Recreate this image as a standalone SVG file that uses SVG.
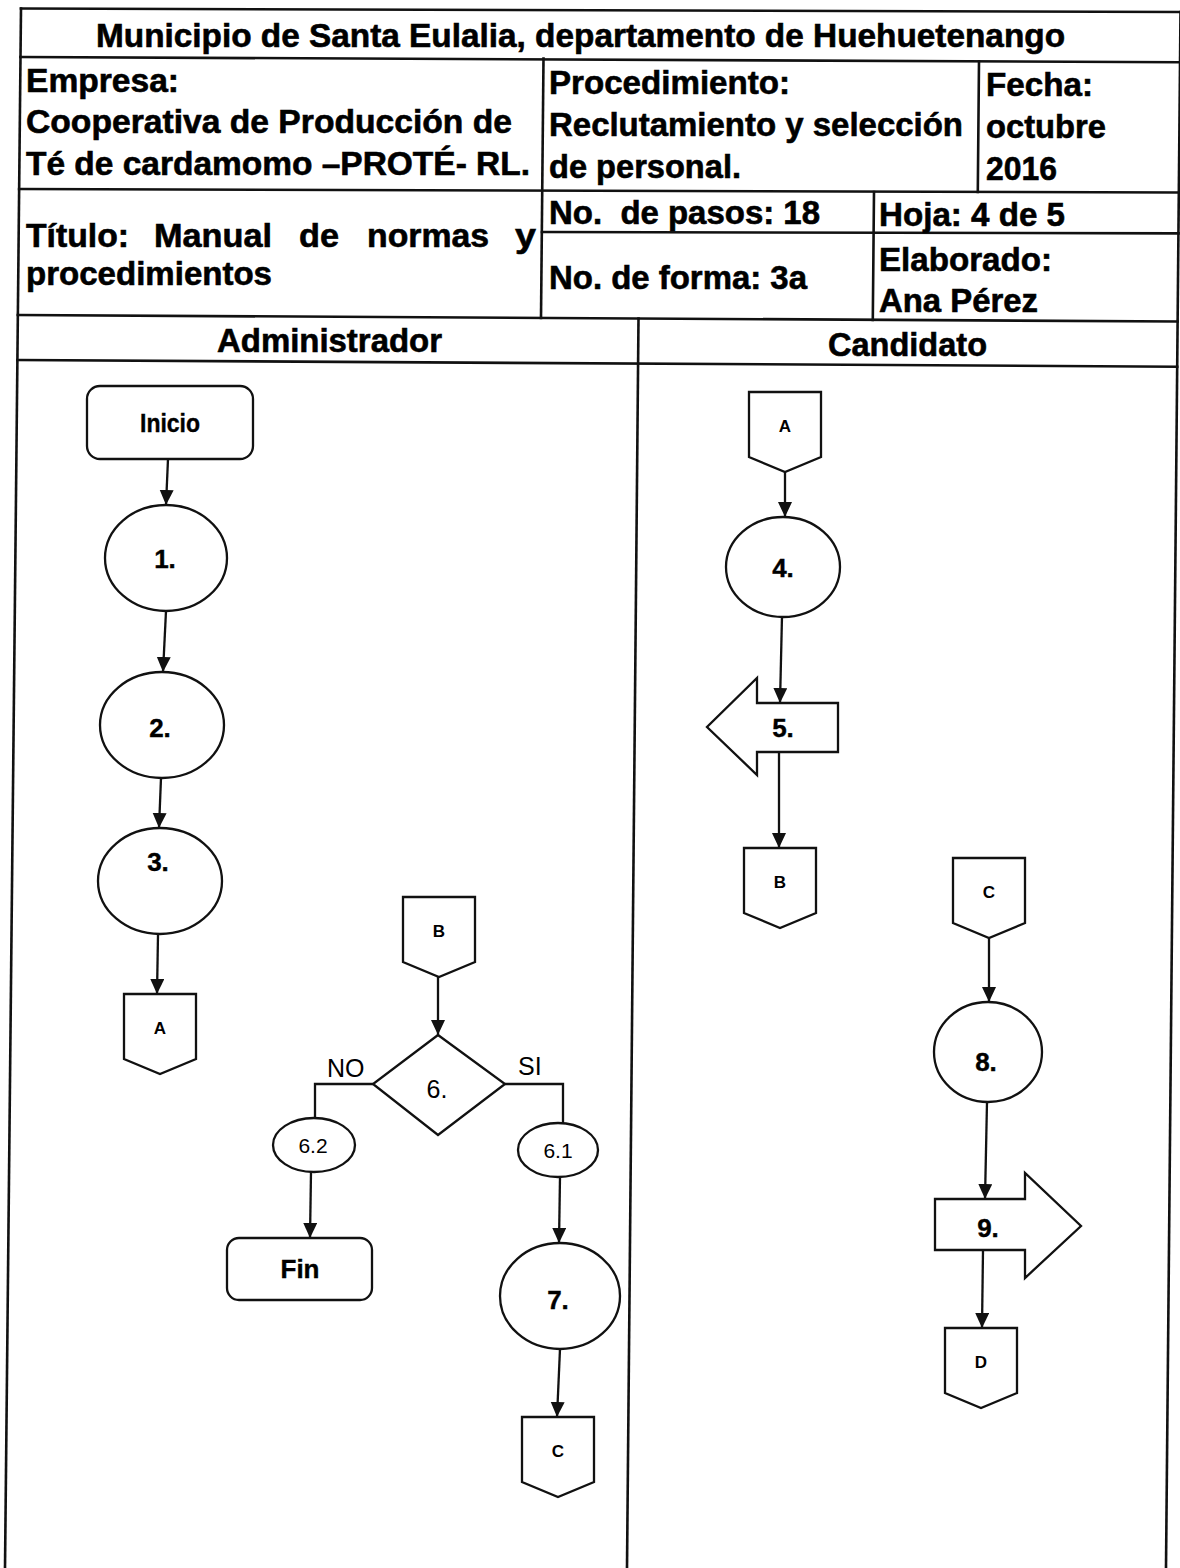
<svg xmlns="http://www.w3.org/2000/svg" width="1180" height="1568" viewBox="0 0 1180 1568">
  <defs>
    <style>
      .frame{stroke:#111;stroke-width:2.6;fill:none;stroke-linecap:square}
      .shape{fill:#fff;stroke:#111;stroke-width:2.3}
      .conn{stroke:#111;stroke-width:2.3;fill:none}
      .hd{font-family:"Liberation Sans",Arial,sans-serif;font-weight:bold;font-size:33px;fill:#000;stroke:#000;stroke-width:0.6;white-space:pre}
      .num{font-family:"Liberation Sans",Arial,sans-serif;font-weight:bold;font-size:26px;fill:#000;stroke:#000;stroke-width:0.4;text-anchor:middle}
      .ref{font-family:"Liberation Sans",Arial,sans-serif;font-weight:bold;font-size:17px;fill:#000;text-anchor:middle}
      .rg{font-family:"Liberation Sans",Arial,sans-serif;font-size:25px;fill:#000}
      .sub{font-family:"Liberation Sans",Arial,sans-serif;font-size:21px;fill:#000;text-anchor:middle}
    </style>
    <marker id="ah" markerUnits="userSpaceOnUse" markerWidth="15" markerHeight="15" refX="15" refY="7" orient="auto">
      <path d="M0,0 L15,7 L0,14 z" fill="#111"/>
    </marker>
    <path id="offpage" d="M0,0 H72 V65 L36,80 L0,65 Z"/>
  </defs>

  <rect width="1180" height="1568" fill="#fff"/>

  <!-- form frame and header table -->
  <g id="frame" class="frame">
    <path d="M21,8.5 L1180.5,12"/>
    <path d="M21,8.5 L5,1568"/>
    <path d="M1180.5,12 L1166,1568"/>
    <path d="M20.4,57 L1180,62.3"/>
    <path d="M19.1,189 L1178.7,192.5"/>
    <path d="M542,232 L1178.5,233.4"/>
    <path d="M17.8,315 L1177.6,321.5"/>
    <path d="M17.3,360 L1177.2,366.7"/>
    <path d="M543.5,58.5 L541,318"/>
    <path d="M979,61.4 L977.8,192"/>
    <path d="M874,192 L872.8,320"/>
    <path d="M638.5,318.5 L627,1568"/>
  </g>

  <g id="header-text">
    <text class="hd" x="96" y="47" textLength="969" lengthAdjust="spacingAndGlyphs">Municipio de Santa Eulalia, departamento de Huehuetenango</text>
    <text class="hd" x="26" y="92" textLength="153" lengthAdjust="spacingAndGlyphs">Empresa:</text>
    <text class="hd" x="26" y="133" textLength="486" lengthAdjust="spacingAndGlyphs">Cooperativa de Producción de</text>
    <text class="hd" x="26" y="175" textLength="504" lengthAdjust="spacingAndGlyphs">Té de cardamomo –PROTÉ- RL.</text>
    <text class="hd" x="549" y="94" textLength="241" lengthAdjust="spacingAndGlyphs">Procedimiento:</text>
    <text class="hd" x="549" y="136" textLength="414" lengthAdjust="spacingAndGlyphs">Reclutamiento y selección</text>
    <text class="hd" x="549" y="178" textLength="192" lengthAdjust="spacingAndGlyphs">de personal.</text>
    <text class="hd" x="986" y="96" textLength="107" lengthAdjust="spacingAndGlyphs">Fecha:</text>
    <text class="hd" x="986" y="138" textLength="120" lengthAdjust="spacingAndGlyphs">octubre</text>
    <text class="hd" x="986" y="180" textLength="71" lengthAdjust="spacingAndGlyphs">2016</text>
    <text class="hd" y="247"><tspan x="26" textLength="103" lengthAdjust="spacingAndGlyphs">Título:</tspan><tspan x="154" textLength="118" lengthAdjust="spacingAndGlyphs">Manual</tspan><tspan x="299" textLength="40" lengthAdjust="spacingAndGlyphs">de</tspan><tspan x="367" textLength="122" lengthAdjust="spacingAndGlyphs">normas</tspan><tspan x="515" textLength="21" lengthAdjust="spacingAndGlyphs">y</tspan></text>
    <text class="hd" x="26" y="285" textLength="246" lengthAdjust="spacingAndGlyphs">procedimientos</text>
    <text class="hd" x="549" y="224" textLength="271" lengthAdjust="spacingAndGlyphs">No.  de pasos: 18</text>
    <text class="hd" x="879" y="226" textLength="186" lengthAdjust="spacingAndGlyphs">Hoja: 4 de 5</text>
    <text class="hd" x="549" y="289" textLength="258" lengthAdjust="spacingAndGlyphs">No. de forma: 3a</text>
    <text class="hd" x="879" y="271" textLength="173" lengthAdjust="spacingAndGlyphs">Elaborado:</text>
    <text class="hd" x="879" y="312" textLength="159" lengthAdjust="spacingAndGlyphs">Ana Pérez</text>
    <text class="hd" x="217" y="352" textLength="225" lengthAdjust="spacingAndGlyphs">Administrador</text>
    <text class="hd" x="828" y="356" textLength="159" lengthAdjust="spacingAndGlyphs">Candidato</text>
  </g>

  <!-- connectors -->
  <g id="connectors" class="conn">
    <path d="M168,459 L166,505" marker-end="url(#ah)"/>
    <path d="M166,611 L163,672" marker-end="url(#ah)"/>
    <path d="M161,778 L159,828" marker-end="url(#ah)"/>
    <path d="M158,935 L157,994" marker-end="url(#ah)"/>
    <path d="M438,977 L438,1035" marker-end="url(#ah)"/>
    <path d="M373,1084 H315 V1118"/>
    <path d="M505,1084 H563 V1123"/>
    <path d="M311,1172 L310,1238" marker-end="url(#ah)"/>
    <path d="M560,1177 L559,1243" marker-end="url(#ah)"/>
    <path d="M560,1349 L557,1417" marker-end="url(#ah)"/>
    <path d="M785,470 L785,517" marker-end="url(#ah)"/>
    <path d="M782,616 L780,703" marker-end="url(#ah)"/>
    <path d="M779,752 L779,848" marker-end="url(#ah)"/>
    <path d="M989,938 L989,1002" marker-end="url(#ah)"/>
    <path d="M987,1102 L985,1199" marker-end="url(#ah)"/>
    <path d="M983,1250 L982,1328" marker-end="url(#ah)"/>
  </g>

  <!-- Administrador lane -->
  <g id="inicio">
    <rect class="shape" x="87" y="386" width="166" height="73" rx="13"/>
    <text class="num" x="170" y="432" font-size="25" textLength="60" lengthAdjust="spacingAndGlyphs">Inicio</text>
  </g>
  <g id="step1">
    <ellipse class="shape" cx="166" cy="558" rx="61" ry="53"/>
    <text class="num" x="165" y="568">1.</text>
  </g>
  <g id="step2">
    <ellipse class="shape" cx="162" cy="725" rx="62" ry="53"/>
    <text class="num" x="160" y="737">2.</text>
  </g>
  <g id="step3">
    <ellipse class="shape" cx="160" cy="881" rx="62" ry="53"/>
    <text class="num" x="158" y="871">3.</text>
  </g>
  <g id="ref-a-out">
    <use href="#offpage" class="shape" x="124" y="994"/>
    <text class="ref" x="160" y="1034">A</text>
  </g>
  <g id="ref-b-in">
    <use href="#offpage" class="shape" x="403" y="897"/>
    <text class="ref" x="439" y="937">B</text>
  </g>
  <g id="step6">
    <polygon class="shape" points="438,1035 505,1084 438,1135 373,1084"/>
    <text class="rg" x="437" y="1098" text-anchor="middle">6.</text>
    <text class="rg" x="327" y="1077">NO</text>
    <text class="rg" x="518" y="1075">SI</text>
  </g>
  <g id="step6-2">
    <ellipse class="shape" cx="314" cy="1145" rx="41" ry="27"/>
    <text class="sub" x="313" y="1153">6.2</text>
  </g>
  <g id="step6-1">
    <ellipse class="shape" cx="558" cy="1150" rx="40" ry="27"/>
    <text class="sub" x="558" y="1158">6.1</text>
  </g>
  <g id="fin">
    <rect class="shape" x="227" y="1238" width="145" height="62" rx="12"/>
    <text class="num" x="300" y="1278" font-size="25">Fin</text>
  </g>
  <g id="step7">
    <ellipse class="shape" cx="560" cy="1296" rx="60" ry="53"/>
    <text class="num" x="558" y="1309">7.</text>
  </g>
  <g id="ref-c-out">
    <use href="#offpage" class="shape" x="522" y="1417"/>
    <text class="ref" x="558" y="1457">C</text>
  </g>

  <!-- Candidato lane -->
  <g id="ref-a-in">
    <use href="#offpage" class="shape" x="749" y="392"/>
    <text class="ref" x="785" y="432">A</text>
  </g>
  <g id="step4">
    <ellipse class="shape" cx="783" cy="567" rx="57" ry="50"/>
    <text class="num" x="783" y="577">4.</text>
  </g>
  <g id="step5">
    <polygon class="shape" points="838,703 757,703 757,678 707,727 757,775 757,752 838,752"/>
    <text class="num" x="783" y="737">5.</text>
  </g>
  <g id="ref-b-out">
    <use href="#offpage" class="shape" x="744" y="848"/>
    <text class="ref" x="780" y="888">B</text>
  </g>
  <g id="ref-c-in">
    <use href="#offpage" class="shape" x="953" y="858"/>
    <text class="ref" x="989" y="898">C</text>
  </g>
  <g id="step8">
    <ellipse class="shape" cx="988" cy="1052" rx="54" ry="50"/>
    <text class="num" x="986" y="1071">8.</text>
  </g>
  <g id="step9">
    <polygon class="shape" points="935,1199 1025,1199 1025,1173 1081,1226 1025,1278 1025,1250 935,1250"/>
    <text class="num" x="988" y="1237">9.</text>
  </g>
  <g id="ref-d-out">
    <use href="#offpage" class="shape" x="945" y="1328"/>
    <text class="ref" x="981" y="1368">D</text>
  </g>
</svg>
